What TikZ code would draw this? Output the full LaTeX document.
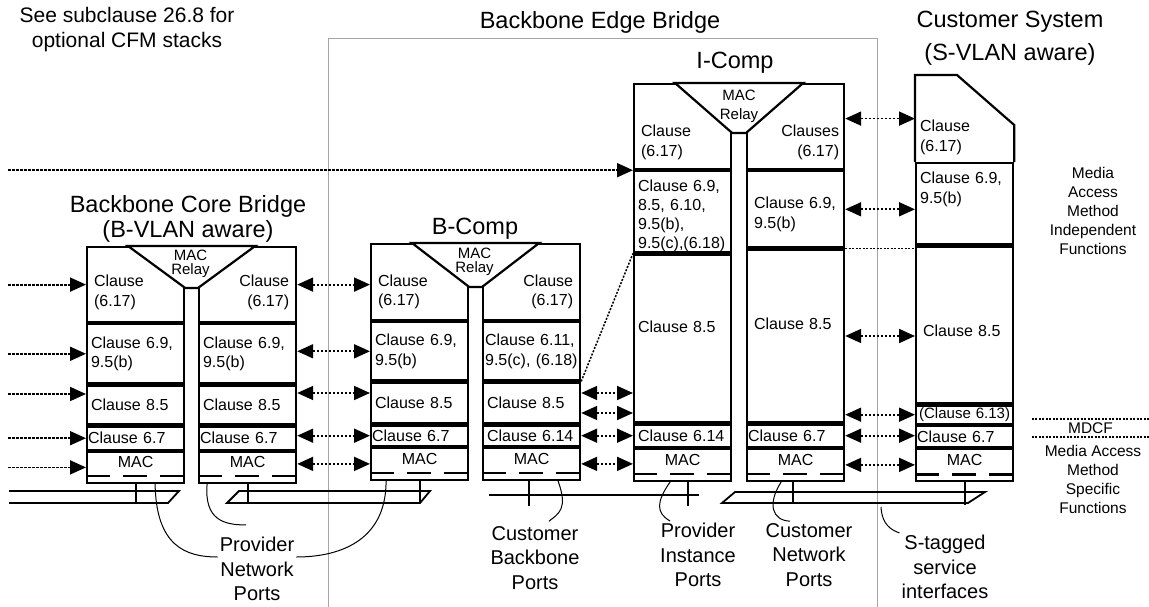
\documentclass[tikz,border=0pt]{standalone}
\usepackage{fontspec}
\setmainfont{Liberation Sans}
\usetikzlibrary{positioning,arrows.meta}

\begin{document}
\begin{tikzpicture}[x=1pt, y=-1pt,
    cell/.style={rectangle, draw, line width=2.2pt, anchor=north west, minimum width=97pt,
        text width=89pt, inner xsep=4pt, inner ysep=0pt, align=left,
        font=\fontsize{16}{19.5}\selectfont},
    indent/.style={text width=83pt, inner xsep=7pt},
    tight/.style={text width=95pt, inner xsep=1pt},
    mac/.style={align=center, text depth=10pt},
    sink/.style={text height=#1},
    lift/.style={text depth=#1},
    outline/.style={line width=2.2pt, line join=miter},
    relay/.style={align=center, inner sep=0pt, font=\fontsize{15}{14}\selectfont},
    heading/.style={align=center, inner sep=0pt, font=\fontsize{23.5}{25}\selectfont},
    portlabel/.style={align=center, inner sep=2pt, font=\fontsize{20}{24.5}\selectfont},
    sidetext/.style={align=center, inner sep=0pt, font=\fontsize{15.5}{19}\selectfont},
    feed/.style={line width=1.8pt, dash pattern=on 2.5pt off 1.5pt, -{Triangle[length=16pt,width=14pt]}},
    link/.style={feed, {Triangle[length=16pt,width=14pt]}-{Triangle[length=16pt,width=14pt]}},
    dotline/.style={line width=1.5pt, dash pattern=on 2pt off 1.5pt},
    macdash/.style={line width=2.6pt, dash pattern=on 24pt off 13pt},
    stub/.style={line width=2.2pt},
    lan/.style={line width=1.8pt, line join=miter},
    lead/.style={line width=1pt},
    ebb/.style={draw=gray!70, line width=1pt}
]
\useasboundingbox (0,0) rectangle (1149,607);

% Backbone Edge Bridge frame
\draw[ebb] (328,607) -- (328,39) -- (877,39) -- (877,607);
\node[heading, font=\fontsize{21}{25}\selectfont] (note) at (127,30) {See subclause 26.8 for\\optional CFM stacks};
\node[heading] (ebbtitle) at (600,22) {Backbone Edge Bridge};

% Backbone Core Bridge
\node[heading] (cbtitle) at (188,219) {Backbone Core Bridge\\(B-VLAN aware)};
\node[cell, indent, sink=27.5pt, minimum height=75pt] (cbL617) at (86,246) {Clause\\(6.17)};
\node[cell, minimum height=59pt, below=0pt of cbL617] (cbL69) {Clause 6.9,\\9.5(b)};
\node[cell, minimum height=39pt, below=0pt of cbL69] (cbL85) {Clause 8.5};
\node[cell, tight, minimum height=23pt, below=0pt of cbL85] (cbL67) {Clause 6.7};
\node[cell, mac, minimum height=31pt, below=0pt of cbL67] (cbLmac) {MAC};
\node[cell, indent, sink=27.5pt, align=right, minimum height=75pt] (cbR617) at (198,246) {Clause\\(6.17)};
\node[cell, minimum height=59pt, below=0pt of cbR617] (cbR69) {Clause 6.9,\\9.5(b)};
\node[cell, minimum height=39pt, below=0pt of cbR69] (cbR85) {Clause 8.5};
\node[cell, tight, minimum height=23pt, below=0pt of cbR85] (cbR67) {Clause 6.7};
\node[cell, mac, minimum height=31pt, below=0pt of cbR67] (cbRmac) {MAC};
\draw[outline, fill=white] ([xshift=42pt]cbL617.north west) -- ([xshift=-42pt]cbR617.north east)
    -- ([yshift=-42pt]cbR617.north west) -- ([yshift=-42pt]cbL617.north east) -- cycle;
\node[relay] (cbrelay) at (190.5,264) {MAC\\Relay};

% B-Comp
\node[heading] (bctitle) at (475,229) {B-Comp};
\node[cell, indent, sink=30.7pt, minimum height=76pt] (bcL617) at (370,243) {Clause\\(6.17)};
\node[cell, minimum height=58pt, below=0pt of bcL617] (bcL69) {Clause 6.9,\\9.5(b)};
\node[cell, minimum height=41pt, below=0pt of bcL69] (bcL85) {Clause 8.5};
\node[cell, tight, minimum height=20pt, below=0pt of bcL85] (bcL67) {Clause 6.7};
\node[cell, mac, minimum height=32pt, below=0pt of bcL67] (bcLmac) {MAC};
\node[cell, indent, sink=30.7pt, align=right, minimum height=76pt] (bcR617) at (482,243) {Clause\\(6.17)};
\node[cell, text width=93pt, inner xsep=2pt, minimum height=58pt, below=0pt of bcR617] (bcR611) {Clause 6.11,\\9.5(c), (6.18)};
\node[cell, minimum height=41pt, below=0pt of bcR611] (bcR85) {Clause 8.5};
\node[cell, minimum height=20pt, below=0pt of bcR85] (bcR614) {Clause 6.14};
\node[cell, mac, minimum height=32pt, below=0pt of bcR614] (bcRmac) {MAC};
\draw[outline, fill=white] ([xshift=42pt]bcL617.north west) -- ([xshift=-42pt]bcR617.north east)
    -- ([yshift=-44pt]bcR617.north west) -- ([yshift=-44pt]bcL617.north east) -- cycle;
\node[relay] (bcrelay) at (474.5,261.5) {MAC\\Relay};

% I-Comp
\node[heading] (ictitle) at (735,63) {I-Comp};
\node[cell, indent, sink=42.7pt, minimum height=85pt] (icL617) at (633,83) {Clause\\(6.17)};
\node[cell, sink=19.5pt, font=\fontsize{16}{19}\selectfont, minimum height=81pt, below=0pt of icL617] (icL69) {Clause 6.9,\\8.5, 6.10,\\9.5(b),\\9.5(c),(6.18)};
\node[cell, lift=24pt, minimum height=168pt, below=0pt of icL69] (icL85) {Clause 8.5};
\node[cell, minimum height=22pt, below=0pt of icL85] (icL614) {Clause 6.14};
\node[cell, mac, minimum height=32pt, below=0pt of icL614] (icLmac) {MAC};
\node[cell, sink=42.7pt, align=right, text width=87pt, inner xsep=5pt, minimum height=85pt] (icR617) at (746,83) {Clauses\\(6.17)};
\node[cell, indent, sink=21.5pt, minimum height=76pt, below=0pt of icR617] (icR69) {Clause 6.9,\\9.5(b)};
\node[cell, indent, lift=25pt, minimum height=173pt, below=0pt of icR69] (icR85) {Clause 8.5};
\node[cell, tight, minimum height=22pt, below=0pt of icR85] (icR67) {Clause 6.7};
\node[cell, mac, minimum height=32pt, below=0pt of icR67] (icRmac) {MAC};
\draw[outline, fill=white] ([xshift=42pt]icL617.north west) -- ([xshift=-42pt]icR617.north east)
    -- ([yshift=-50pt]icR617.north west) -- ([yshift=-50pt]icL617.north east) -- cycle;
\node[relay, font=\fontsize{15}{19}\selectfont] (icrelay) at (739,106) {MAC\\Relay};

% Customer System
\node[heading] (cstitle) at (1010,38) {Customer System\\[8pt](S-VLAN aware)};
\node[cell, draw=none, sink=48.7pt, minimum height=85pt] (cs617) at (915,75) {Clause\\(6.17)};
\node[cell, lift=51.7pt, minimum height=81pt, below=0pt of cs617] (cs69) {Clause 6.9,\\9.5(b)};
\node[cell, indent, sink=22.5pt, minimum height=157pt, below=0pt of cs69] (cs85) {Clause 8.5};
\node[cell, tight, align=center, font=\fontsize{15}{18}\selectfont, minimum height=18pt, below=0pt of cs85] (cs613) {(Clause 6.13)};
\node[cell, tight, minimum height=21pt, below=0pt of cs613] (cs67) {Clause 6.7};
\node[cell, mac, minimum height=32pt, below=0pt of cs67] (csmac) {MAC};
\draw[outline] (cs617.south west) -- (cs617.north west) -- ([xshift=42pt]cs617.north west)
    -- ([yshift=-50pt]cs617.north east) -- (cs617.south east);

% dashed MAC service lines
\foreach \m in {cbLmac,cbRmac,bcLmac,bcRmac,icLmac,icRmac,csmac}
    \draw[macdash] ([yshift=8pt]\m.south west) -- ([yshift=8pt]\m.south east);

% Side texts
\node[sidetext] (maif) at (1093,211) {Media\\Access\\Method\\Independent\\Functions};
\node[sidetext, minimum width=117pt, minimum height=18pt] (mdcf) at (1090.5,428) {MDCF};
\node[sidetext] (mams) at (1093,479) {Media Access\\Method\\Specific\\Functions};
\draw[dotline] (mdcf.north west) -- (mdcf.north east);
\draw[dotline] (mdcf.south west) -- (mdcf.south east);

% Feeds into the core bridge
\draw[feed] ([xshift=-78pt]cbL617.west) -- (cbL617.west);
\draw[feed] ([xshift=-78pt]cbL69.west) -- (cbL69.west);
\draw[feed] ([xshift=-78pt,yshift=11pt]cbL85.west) -- ([yshift=11pt]cbL85.west);
\draw[feed] ([xshift=-78pt]cbL67.west) -- (cbL67.west);
\draw[feed] ([xshift=-78pt]cbLmac.west) -- (cbLmac.west);
\draw[feed] ([xshift=-625pt]icL69.north west) -- (icL69.north west);

% Core bridge <-> B-Comp
\draw[link] (cbR617.east) -- (cbR617.east -| bcL617.west);
\draw[link] (bcL69.west -| cbR69.east) -- (bcL69.west);
\draw[link] ([yshift=10pt]bcL85.west -| cbR85.east) -- ([yshift=10pt]bcL85.west);
\draw[link] (bcL67.west -| cbR67.east) -- (bcL67.west);
\draw[link] (bcLmac.west -| cbRmac.east) -- (bcLmac.west);

% B-Comp <-> I-Comp
\draw[link] ([yshift=10pt]bcR85.east) -- ([yshift=10pt]bcR85.east -| icL85.west);
\draw[link] ([yshift=-10pt]bcR85.east) -- ([yshift=-10pt]bcR85.east -| icL85.west);
\draw[link] (bcR614.east) -- (bcR614.east -| icL614.west);
\draw[link] (bcRmac.east) -- (bcRmac.east -| icLmac.west);
\draw[dotline] (bcR85.north east) -- (icL85.north west);

% I-Comp <-> Customer System
\draw[link] (cs617.west -| icR617.east) -- (cs617.west);
\draw[link] (icR69.east) -- (icR69.east -| cs69.west);
\draw[dotline] (icR69.south east) -- (icR69.south east -| cs69.west);
\draw[link] (icR85.east) -- (icR85.east -| cs85.west);
\draw[link] (cs613.west -| icR85.east) -- (cs613.west);
\draw[link] (icR67.east) -- (icR67.east -| cs67.west);
\draw[link] (icRmac.east) -- (icRmac.east -| csmac.west);

% LANs and attachments
\draw[lan] (9,491) -- (179,491) -- (168,503) -- (9,503);
\draw[lan] (227,503) -- (239,491) -- (430,491) -- (420,503) -- cycle;
\draw[lan] (489,495) -- (699,495);
\draw[lan] (722,503) -- (735,492) -- (985,492) -- (968,503) -- cycle;
\draw[stub] (cbLmac.south) -- ++(0,18);
\draw[stub] (cbRmac.south) -- ++(0,18);
\draw[stub] (bcLmac.south) -- ++(0,21);
\draw[stub] ([xshift=-3pt]bcRmac.south) -- ++(0,25);
\draw[stub] ([xshift=5.5pt]icLmac.south) -- ++(0,24);
\draw[stub] ([xshift=-2.5pt]icRmac.south) -- ++(0,21);
\draw[stub] (csmac.south) -- ++(0,23);

% Port labels
\node[portlabel] (pnp) at (257,569) {Provider\\Network\\Ports};
\node[portlabel] (cbp) at (535,558) {Customer\\Backbone\\Ports};
\node[portlabel] (pip) at (698,555) {Provider\\Instance\\Ports};
\node[portlabel] (cnp) at (809,555) {Customer\\Network\\Ports};
\node[portlabel] (stag) at (945,567) {S-tagged\\service\\interfaces};
\coordinate (stagfoot) at (881,507);

\draw[lead] ([xshift=19.5pt]cbLmac.south) .. controls +(1,62) and +(-32,0) .. ([yshift=12pt]pnp.west);
\draw[lead] ([xshift=-40.5pt]cbRmac.south) .. controls +(-3,36) and +(-22,0) .. ([xshift=-11pt,yshift=10pt]pnp.north);
\draw[lead] ([xshift=-33.5pt]bcLmac.south) .. controls +(0,62) and +(40,0) .. ([yshift=12pt]pnp.east);
\draw[lead] ([xshift=26.5pt]bcRmac.south) .. controls +(10,28) and +(10,-8) .. ([xshift=14pt,yshift=3pt]cbp.north);
\draw[lead] ([xshift=-12.5pt]icLmac.south) .. controls +(-14,20) and +(-14,-8) .. ([xshift=-28pt]pip.north);
\draw[lead] ([xshift=-14.5pt]icRmac.south) .. controls +(-14,22) and +(-18,-1) .. ([xshift=-19pt]cnp.north);
\draw[lead] (stagfoot) .. controls +(1,18) and +(-8,-3) .. (stag.north west);

\end{tikzpicture}
\end{document}
